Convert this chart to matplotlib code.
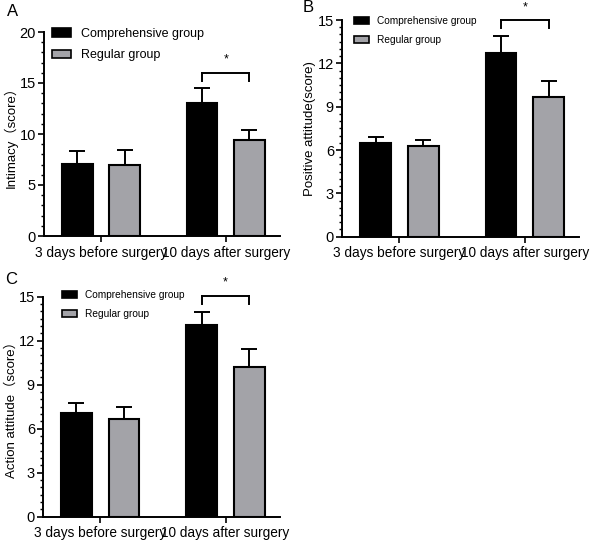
import matplotlib
matplotlib.use("Agg")
import matplotlib.pyplot as plt
import numpy as np
from matplotlib.patches import Patch
from matplotlib.ticker import MultipleLocator

plt.rcParams['font.family'] = ['Liberation Sans', 'Noto Sans CJK SC', 'DejaVu Sans']

categories = ["3 days before surgery", "10 days after surgery"]
series_names = ["Comprehensive group", "Regular group"]

# Panel A: Intimacy
a_comp = [7.05, 13.05]
a_comp_err = [1.25, 1.42]
a_reg = [6.98, 9.45]
a_reg_err = [1.42, 0.92]

# Panel B: Positive attitude
b_comp = [6.5, 12.72]
b_comp_err = [0.42, 1.16]
b_reg = [6.3, 9.68]
b_reg_err = [0.38, 1.08]

# Panel C: Action attitude
c_comp = [7.05, 13.05]
c_comp_err = [0.68, 0.92]
c_reg = [6.65, 10.22]
c_reg_err = [0.8, 1.2]

ylabels = ["Intimacy\uff08score\uff09", "Positive attitude(score)", "Action attitude\uff08score\uff09"]
panel_letters = ["A", "B", "C"]
ylims = [20, 15, 15]
major_steps = [5, 3, 3]
minor_steps = [1, 0.5, 0.5]
bracket_y = [15.95, 15.0, 15.05]
star_y = [17.3, 15.9, 15.95]

black = "#000000"
gray = "#a3a3a8"

fig = plt.figure(figsize=(5.9, 5.42), dpi=100)
W, H = 590, 542

def fig_rect(l, r, b, t):
    return [l / W, 1 - b / H, (r - l) / W, (b - t) / H]

rects = [fig_rect(44.3, 280, 236, 32),
         fig_rect(342.3, 579.3, 236.7, 20),
         fig_rect(43.3, 280, 516.7, 296.7)]

data = [(a_comp, a_comp_err, a_reg, a_reg_err),
        (b_comp, b_comp_err, b_reg, b_reg_err),
        (c_comp, c_comp_err, c_reg, c_reg_err)]

legend_cfg = [
    dict(anchor=(52, 28), fs=9.0, gap=0.75),
    dict(anchor=(354, 16), fs=7.3, gap=0.85),
    dict(anchor=(62, 290), fs=7.3, gap=0.85),
]
letter_pos = [(7, 11), (303, 7), (5, 280)]

x = np.arange(len(categories))
off = 0.19
bw = 0.245

for i in range(3):
    ax = fig.add_axes(rects[i])
    comp, comp_err, reg, reg_err = data[i]
    ax.bar(x - off, comp, width=bw, color=black, edgecolor=black, linewidth=1.5, zorder=3)
    ax.bar(x + off, reg, width=bw, color=gray, edgecolor=black, linewidth=1.5, zorder=3)
    ax.errorbar(x - off, comp, yerr=[np.zeros(2), comp_err], fmt='none', ecolor=black,
                elinewidth=1.4, capsize=6, capthick=1.4, zorder=2)
    ax.errorbar(x + off, reg, yerr=[np.zeros(2), reg_err], fmt='none', ecolor=black,
                elinewidth=1.4, capsize=6, capthick=1.4, zorder=2)
    ax.set_xlim(-0.455, 1.435)
    ax.set_ylim(0, ylims[i])
    ax.yaxis.set_major_locator(MultipleLocator(major_steps[i]))
    ax.yaxis.set_minor_locator(MultipleLocator(minor_steps[i]))
    ax.set_xticks(x)
    ax.set_xticklabels(categories, fontsize=9.8)
    ax.tick_params(axis='y', which='major', length=4.5, width=1.2, labelsize=10.5, pad=1.5, direction='out')
    ax.tick_params(axis='y', which='minor', length=2.5, width=1.0)
    ax.tick_params(axis='x', length=4, width=1.2, pad=3)
    for s in ['top', 'right']:
        ax.spines[s].set_visible(False)
    for s in ['left', 'bottom']:
        ax.spines[s].set_linewidth(1.4)
    ax.set_ylabel(ylabels[i], fontsize=9.5, labelpad=1)

    # significance bracket
    x0, x1 = 1 - off, 1 + off
    by = bracket_y[i]
    tick_h = 0.05 * ylims[i] * 0.75
    ax.plot([x0, x1], [by, by], color=black, lw=1.4, clip_on=False)
    ax.plot([x0, x0], [by, by - tick_h], color=black, lw=1.4, clip_on=False)
    ax.plot([x1, x1], [by, by - tick_h], color=black, lw=1.4, clip_on=False)
    ax.text(1.0, star_y[i], "*", ha='center', va='center', fontsize=9, clip_on=False)

    handles = [Patch(facecolor=black, edgecolor=black, linewidth=1.2),
               Patch(facecolor=gray, edgecolor=black, linewidth=1.2)]
    cfg = legend_cfg[i]
    ax.legend(handles, series_names, loc='upper left',
              bbox_to_anchor=(cfg['anchor'][0] / W, 1 - cfg['anchor'][1] / H),
              bbox_transform=fig.transFigure, frameon=False, fontsize=cfg['fs'],
              handlelength=1.5, handleheight=0.7, handletextpad=0.8,
              labelspacing=cfg['gap'], borderpad=0, borderaxespad=0)

    lx, ly = letter_pos[i]
    fig.text(lx / W, 1 - ly / H, panel_letters[i], fontsize=12, ha='left', va='center')

fig.savefig("out.png", dpi=100)
